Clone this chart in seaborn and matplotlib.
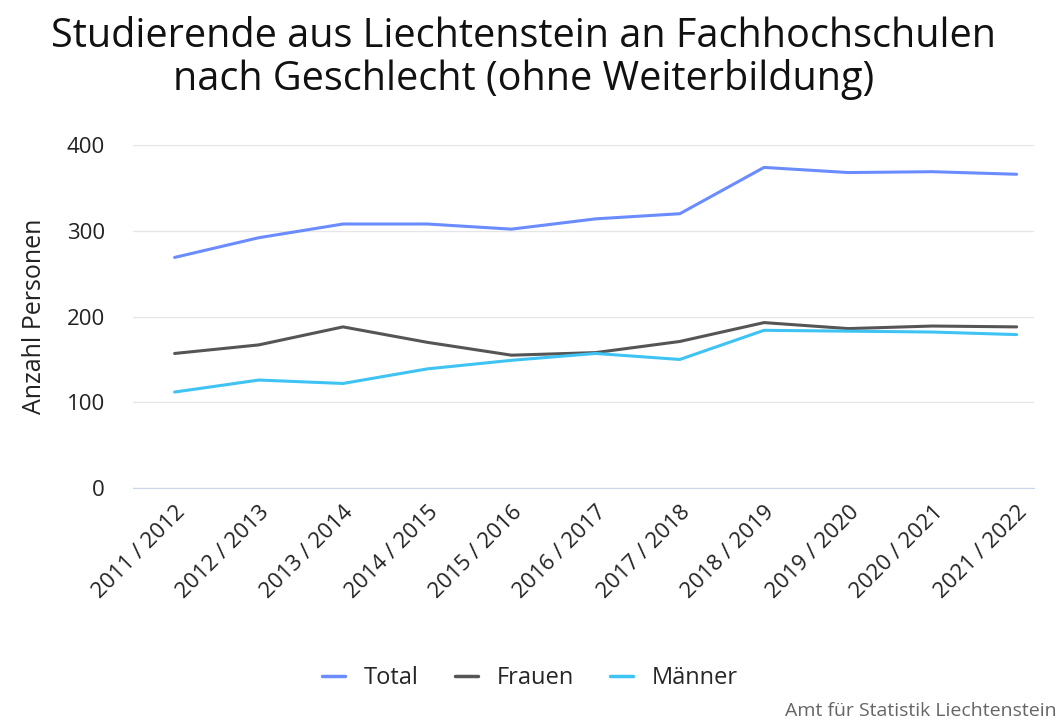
import pandas as pd
import matplotlib.pyplot as plt
import seaborn as sns

# Studienjahre und Werte
jahre = ["2011 / 2012", "2012 / 2013", "2013 / 2014", "2014 / 2015", "2015 / 2016",
         "2016 / 2017", "2017 / 2018", "2018 / 2019", "2019 / 2020", "2020 / 2021",
         "2021 / 2022"]
total = [269, 292, 308, 308, 302, 314, 320, 374, 368, 369, 366]
frauen = [157, 167, 188, 170, 155, 158, 171, 193, 186, 189, 188]
maenner = [112, 126, 122, 139, 149, 157, 150, 184, 183, 182, 179]

df = pd.DataFrame({"Jahr": jahre, "Total": total, "Frauen": frauen, "Männer": maenner})
df_long = df.melt(id_vars="Jahr", var_name="Gruppe", value_name="Anzahl")
df_long["pos"] = df_long["Jahr"].map({j: i for i, j in enumerate(jahre)})

sns.set_style("white")
plt.rcParams["font.family"] = ["Open Sans", "DejaVu Sans"]

fig = plt.figure(figsize=(10.6, 7.22), dpi=100)
ax = fig.add_axes([0.125, 0.324, 0.85, 0.475])

palette = {"Total": "#6b8cff", "Frauen": "#555555", "Männer": "#3ec3f2"}
sns.lineplot(data=df_long, x="pos", y="Anzahl", hue="Gruppe", palette=palette,
             linewidth=2.2, ax=ax, legend=False)

ax.set_ylim(0, 400)
ax.set_xlim(-0.5, 10.2)
ax.set_yticks([0, 100, 200, 300, 400])
ax.set_xticks(range(len(jahre)))
ax.set_xticklabels(jahre, rotation=45, ha="right", rotation_mode="anchor", fontsize=16, color="#222222")
ax.tick_params(axis="y", labelsize=16, labelcolor="#222222", length=0, pad=20)
ax.tick_params(axis="x", length=0, pad=10)
ax.grid(axis="y", color="#e6e6e6", linewidth=1)
for s in ["top", "right", "left"]:
    ax.spines[s].set_visible(False)
ax.spines["bottom"].set_color("#ccd6eb")
ax.set_xlabel("")
ax.set_ylabel("Anzahl Personen", fontsize=18, color="#222222", labelpad=14)

fig.suptitle("Studierende aus Liechtenstein an Fachhochschulen\nnach Geschlecht (ohne Weiterbildung)",
             x=0.494, y=0.977, fontsize=28.5, color="#111111", linespacing=1.05)

handles = [plt.Line2D([], [], color=palette[g], linewidth=2.5) for g in ["Total", "Frauen", "Männer"]]
fig.legend(handles, ["Total", "Frauen", "Männer"], loc="center", bbox_to_anchor=(0.5, 0.061),
           ncol=3, frameon=False, fontsize=17, handlelength=1.0, columnspacing=1.5, handletextpad=0.8)

fig.text(0.997, 0.003, "Amt für Statistik Liechtenstein", ha="right", va="bottom", fontsize=14, color="#666666")

fig.savefig("out.png", dpi=100)
